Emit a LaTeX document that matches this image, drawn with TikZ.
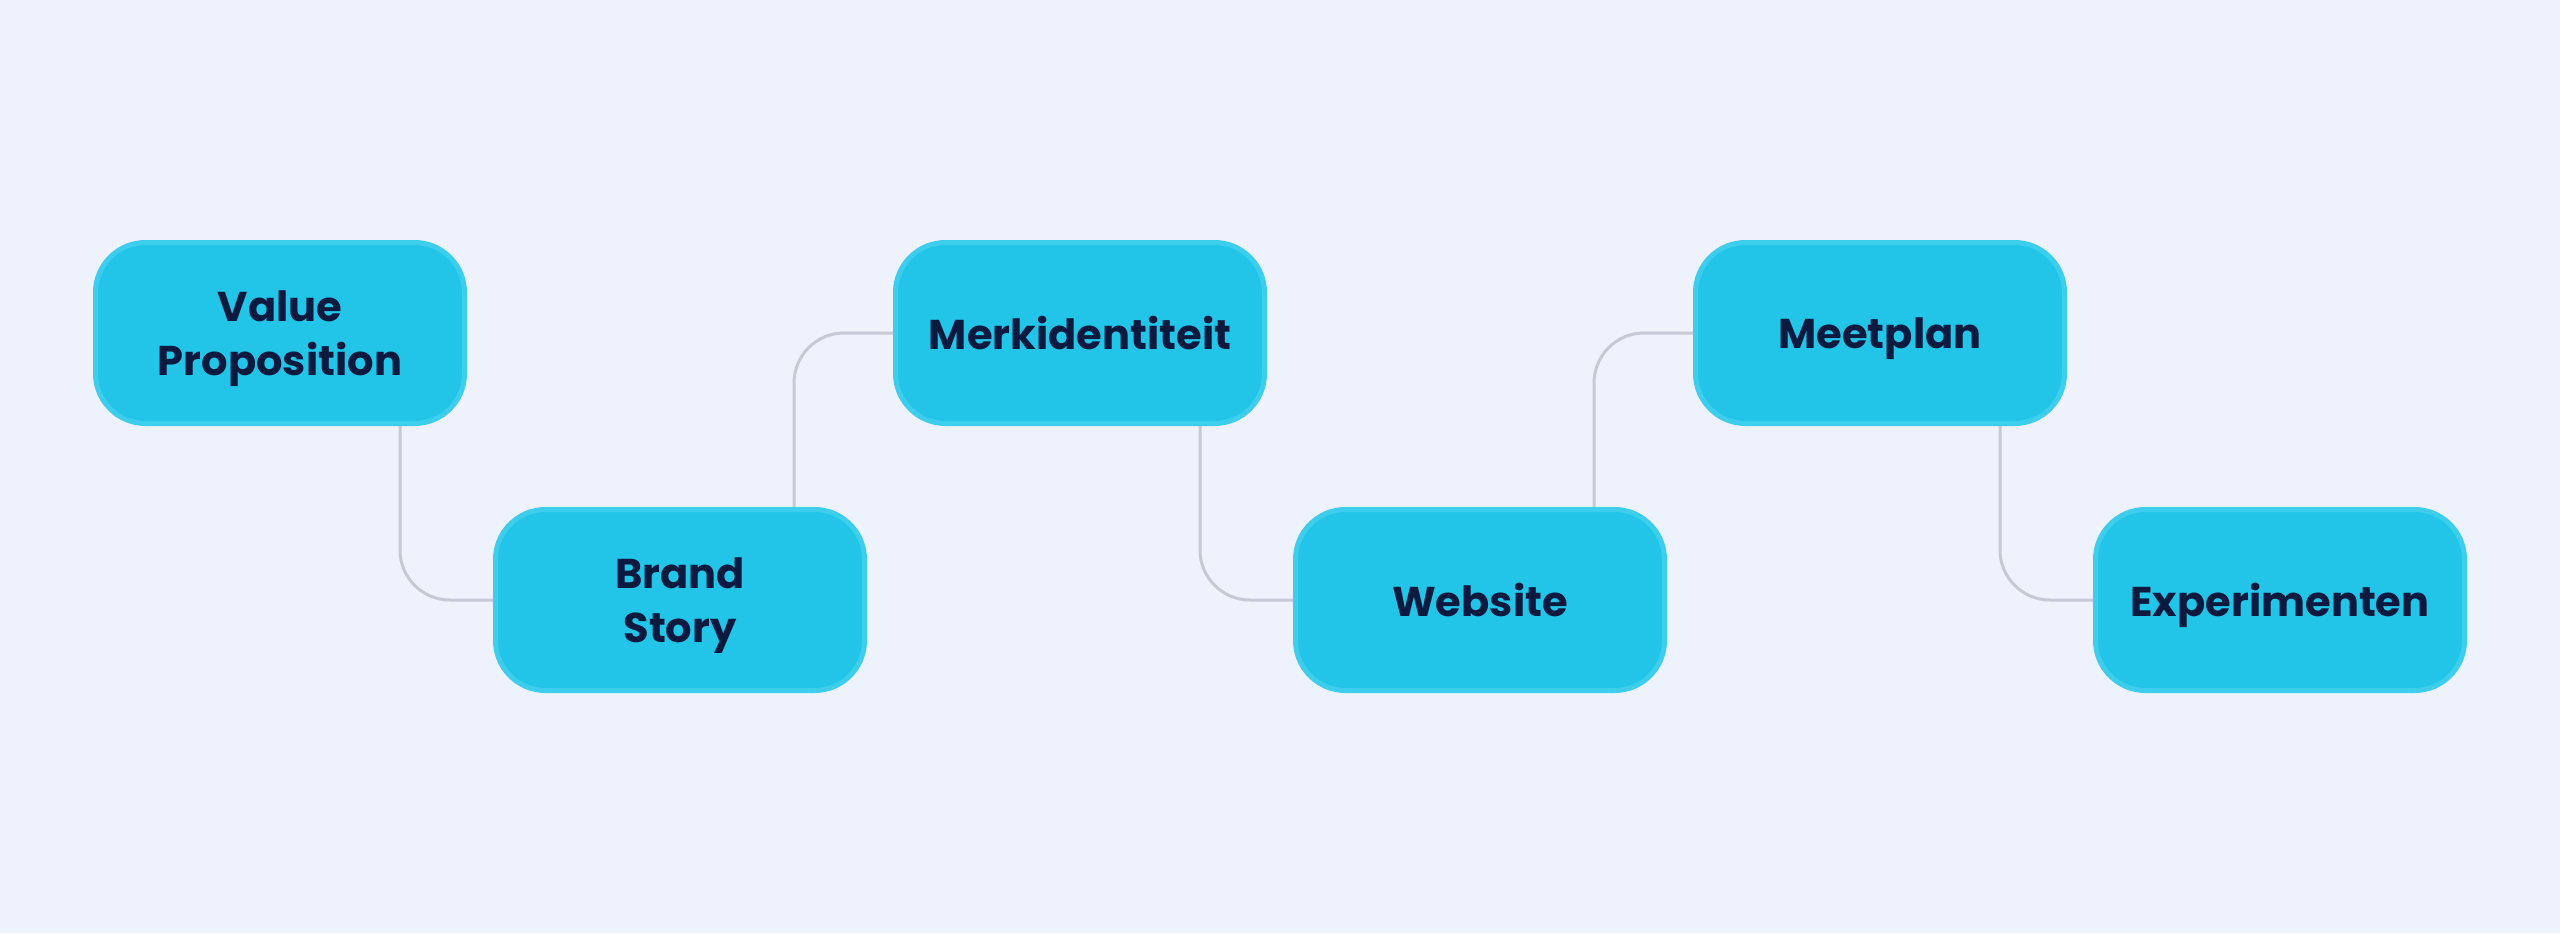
\documentclass[tikz,border=0pt]{standalone}
\usepackage{fontspec}
\setmainfont{Poppins}
\definecolor{bgc}{HTML}{EEF2FC}
\definecolor{boxfill}{HTML}{22C5E8}
\definecolor{boxedge}{HTML}{3DCEEE}
\definecolor{linec}{HTML}{C5C9D8}
\definecolor{txt}{HTML}{0C1A40}
\pgfdeclarelayer{bg}
\pgfsetlayers{bg,main}
\tikzset{
  stepbox/.style={draw=boxedge, line width=2.5pt, fill=boxfill, rounded corners=25pt,
    minimum width=184.5pt, minimum height=90.5pt, inner sep=0pt, text depth=0pt,
    font=\fontsize{20.8}{27}\selectfont\bfseries, text=txt, align=center},
  conn/.style={draw=linec, line width=1.5pt, rounded corners=25pt}
}
\begin{document}
\begin{tikzpicture}[x=0.5pt,y=-0.5pt]
\begin{pgfonlayer}{bg}
\fill[bgc] (0,0) rectangle (2560,933);
\end{pgfonlayer}
\useasboundingbox (0,0) rectangle (2560,933);
\node[stepbox] (vp) at (280,333) {Value\\Proposition};
\node[stepbox] (bs) at (680,600) {Brand\\Story};
\node[stepbox] (mk) at (1080,333) {Merkidentiteit};
\node[stepbox] (ws) at (1480,600) {Website};
\node[stepbox] (mp) at (1880,333) {Meetplan};
\node[stepbox] (ex) at (2280,600) {Experimenten};
\begin{pgfonlayer}{bg}
\draw[conn] ([xshift=-33.5pt]vp.south east) |- (bs.west);
\draw[conn] ([xshift=150.5pt]bs.north west) |- (mk.west);
\draw[conn] ([xshift=-33.5pt]mk.south east) |- (ws.west);
\draw[conn] ([xshift=150.5pt]ws.north west) |- (mp.west);
\draw[conn] ([xshift=-33.5pt]mp.south east) |- (ex.west);
\end{pgfonlayer}
\end{tikzpicture}
\end{document}
